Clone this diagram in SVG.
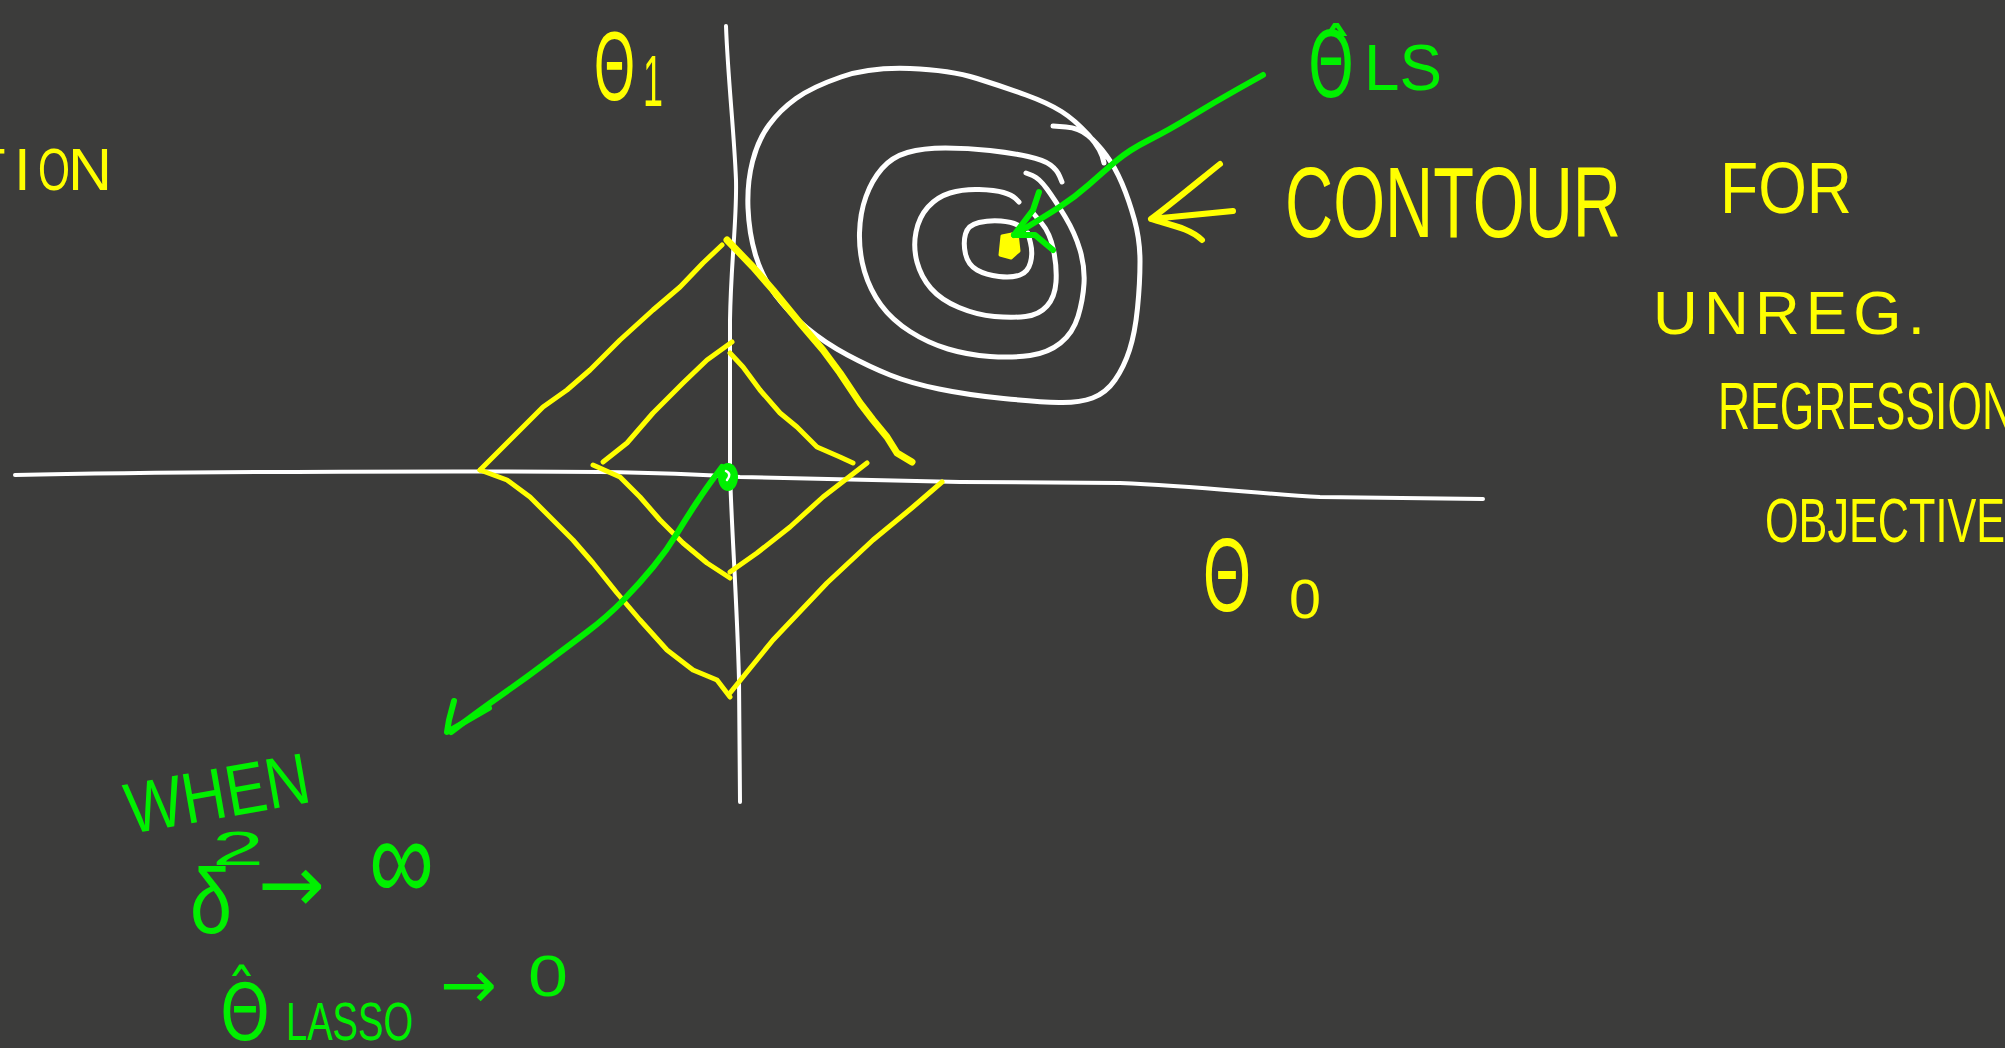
<svg xmlns="http://www.w3.org/2000/svg" width="2005" height="1048" viewBox="0 0 2005 1048">
<style>
.w{fill:none;stroke:#ffffff;stroke-width:5;stroke-linecap:round;stroke-linejoin:round}
.ax{fill:none;stroke:#ffffff;stroke-width:4;stroke-linecap:round;stroke-linejoin:round}
.y{fill:none;stroke:#ffff00;stroke-width:5;stroke-linecap:round;stroke-linejoin:round}
.g{fill:none;stroke:#00f000;stroke-width:6;stroke-linecap:round;stroke-linejoin:round}
.ty{fill:#ffff00;font-family:"Liberation Sans","DejaVu Sans",sans-serif}
.tg{fill:#00f000;font-family:"Liberation Sans","DejaVu Sans",sans-serif}
.dv{font-family:"DejaVu Sans",sans-serif}
</style>
<rect width="2005" height="1048" fill="#3c3c3b"/>
<g id="axes">
<path class="ax" d="M15,475 C200,471 500,471 600,472 C680,473 710,475 740,477 L960,482 L1120,483 C1200,486 1260,494 1320,497 L1483,499"/>
<path class="ax" d="M726,26 C728,80 734,130 736,180 C737,220 731,260 730,320 L730,470 C731,520 737,600 739,680 L740,802"/>
</g>
<g id="contours">
<path class="w" d="M1053,126 L1066,127 Q1079,128 1088,135.5 Q1097,143 1106,155 Q1115,167 1122,183.5 Q1129,200 1134.5,220 Q1140,240 1140,261.5 Q1140,283 1137.5,308 Q1135,333 1129.5,350 Q1124,367 1115,380 Q1106,393 1092.5,398 Q1079,403 1059,402.5 Q1039,402 1003.5,398.5 Q968,395 939,389 Q910,383 890,375 Q870,367 847.5,355 Q825,343 807,328 Q789,313 775.5,295 Q762,277 755.5,255 Q749,233 748,208 Q747,183 752.5,161.5 Q758,140 769,125 Q780,110 796,98.5 Q812,87 841,77 Q870,67 910,68.5 Q950,70 977,78.5 Q1004,87 1026,95 Q1048,103 1061.5,111.5 Q1075,120 1088.5,135 Q1102,150 1104,163"/>
<path class="w" d="M1026,173 L1032.5,175.5 Q1039,178 1047,189 Q1055,200 1065,216.5 Q1075,233 1080,250 Q1085,267 1084,283.5 Q1083,300 1078,316.5 Q1073,333 1060.5,343 Q1048,353 1030,355.5 Q1012,358 990,356.5 Q968,355 948,349 Q928,343 910,331.5 Q892,320 881,305 Q870,290 864.5,271.5 Q859,253 859.5,233 Q860,213 866,196.5 Q872,180 882,168.5 Q892,157 907.5,152.5 Q923,148 945.5,148 Q968,148 990,150.5 Q1012,153 1028,156.5 Q1044,160 1050.5,165 Q1057,170 1059.5,176 L1062,182"/>
<path class="w" d="M1033,213 L1041.5,223 Q1050,233 1053.5,250 Q1057,267 1056,282 Q1055,297 1047,306 Q1039,315 1025.5,316.5 Q1012,318 994.5,316.5 Q977,315 959,307.5 Q941,300 931,288.5 Q921,277 917,262 Q913,247 916,232 Q919,217 928,207 Q937,197 950,193 Q963,189 979,189.5 Q995,190 1003.5,192.5 Q1012,195 1015.5,198.5 L1019,202"/>
<path class="w" d="M1028,233 L1030.5,243 Q1033,253 1030.5,262.5 Q1028,272 1020,275 Q1012,278 999,276.5 Q986,275 977,270 Q968,265 965.5,254 Q963,243 965.5,234 Q968,225 979,222.5 Q990,220 1001,221 Q1012,222 1016.5,224.5 L1021,227"/>
<path d="M1002,236 L1017,233 L1019,251 L1011,258 L1000,255 Z" fill="#ffff00" stroke="#ffff00" stroke-width="3" stroke-linejoin="round"/>
</g>
<g id="diamond-outer">
<path class="y" d="M480,470 L517,433 L543,407 L567,390 L590,370 L620,340 L653,310 L680,287 L703,263 L722,245"/>
<path class="y" style="stroke-width:7" d="M727,240 L753,267 L773,290 L800,323 L823,350 L840,373 L860,403 L873,420 L887,437 L897,453 L912,462"/>
<path class="y" d="M480,470 L507,480 L530,497 L550,517 L573,540 L593,563 L617,593 L640,620 L667,650 L693,670 L717,680 L730,697"/>
<path class="y" d="M730,693 L773,640 L827,583 L873,540 L913,507 L942,482"/>
</g>
<g id="diamond-inner">
<path class="y" d="M603,462 L627,443 L653,413 L683,383 L707,360 L732,342"/>
<path class="y" d="M730,353 L743,367 L760,390 L780,413 L797,427 L817,447 L840,457 L853,463"/>
<path class="y" d="M593,465 L620,477 L640,497 L660,520 L683,543 L707,563 L730,578"/>
<path class="y" d="M730,572 L757,553 L790,527 L823,497 L867,463"/>
</g>
<g id="lasso-point">
<ellipse cx="728" cy="477" rx="10" ry="14" fill="#00f000"/>
<path d="M726,471 Q732,474 727,480" fill="none" stroke="#ffffff" stroke-width="2.5" stroke-linecap="round"/>
</g>
<g id="connectors">
<path class="g" d="M1263,75 L1238,89 Q1213,103 1191,116.5 Q1169,130 1149,140 Q1129,150 1115.5,161.5 Q1102,173 1088.5,185 Q1075,197 1059.5,207 Q1044,217 1014,235"/>
<path class="g" d="M1039,192 L1033,210 L1014,235 L1035,235 L1053,250"/>
<path class="g" d="M722,467 L714.5,477 Q707,487 697,502 Q687,517 677,533.5 Q667,550 653.5,566.5 Q640,583 623.5,600 Q607,617 587,632 Q567,647 545,663.5 Q523,680 501.5,695 Q480,710 451,732"/>
<path class="g" d="M454,701 L449,720 L447,732 L470,719 L489,708"/>
<path class="y" style="stroke-width:6" d="M1220,164 C1200,180 1170,205 1151,219 L1233,211 M1151,219 C1170,225 1190,228 1202,240"/>
</g>
<g id="labels-yellow">
<text class="ty" y="190" font-size="60"><tspan x="-31">T</tspan><tspan x="14">I</tspan><tspan x="38" textLength="32" lengthAdjust="spacingAndGlyphs">O</tspan><tspan x="68" textLength="44" lengthAdjust="spacingAndGlyphs">N</tspan></text>
<text class="ty" x="594" y="100" font-size="98"><tspan textLength="41" lengthAdjust="spacingAndGlyphs">Θ</tspan><tspan x="643" y="106" font-size="72" textLength="20" lengthAdjust="spacingAndGlyphs">1</tspan></text>
<text class="ty" x="1285" y="237" font-size="100" textLength="336" lengthAdjust="spacingAndGlyphs">CONTOUR</text>
<text class="ty" x="1720" y="213" font-size="72" textLength="132" lengthAdjust="spacingAndGlyphs">FOR</text>
<text class="ty" x="1653" y="334" font-size="62" textLength="272" lengthAdjust="spacing">UNREG.</text>
<text class="ty" x="1718" y="429" font-size="66" textLength="296" lengthAdjust="spacingAndGlyphs">REGRESSION</text>
<text class="ty" x="1765" y="542" font-size="63" textLength="240" lengthAdjust="spacingAndGlyphs">OBJECTIVE</text>
<text class="ty" x="1203" y="611" font-size="104"><tspan textLength="48" lengthAdjust="spacingAndGlyphs">Θ</tspan><tspan x="1289" y="618" font-size="56" textLength="32" lengthAdjust="spacingAndGlyphs">0</tspan></text>
</g>
<g id="labels-green">
<text class="tg" x="1308" y="97" font-size="90"><tspan class="dv" textLength="46" lengthAdjust="spacingAndGlyphs">Θ</tspan><tspan class="dv" x="1318" y="80" font-size="72">ˆ</tspan><tspan x="1364" y="90" font-size="64" textLength="78" lengthAdjust="spacingAndGlyphs">LS</tspan></text>
<text class="tg" transform="translate(130,834) rotate(-10)" font-size="72" textLength="186" lengthAdjust="spacingAndGlyphs">WHEN</text>
<text class="tg" x="190" y="933" font-size="92"><tspan textLength="42" lengthAdjust="spacingAndGlyphs">δ</tspan><tspan x="212" y="865" font-size="48" textLength="52" lengthAdjust="spacingAndGlyphs">2</tspan><tspan class="dv" x="258" y="912" font-size="80">→</tspan><tspan x="369" y="900" font-size="118" textLength="65" lengthAdjust="spacingAndGlyphs">∞</tspan></text>
<text class="tg" x="220" y="1040" font-size="78"><tspan class="dv" textLength="50" lengthAdjust="spacingAndGlyphs">Θ</tspan><tspan class="dv" x="226" y="1015" font-size="62">ˆ</tspan><tspan x="286" y="1040" font-size="54" textLength="127" lengthAdjust="spacingAndGlyphs">LASSO</tspan><tspan class="dv" x="440" y="1008" font-size="68">→</tspan><tspan x="528" y="996" font-size="58" textLength="40" lengthAdjust="spacingAndGlyphs">0</tspan></text>
</g>
</svg>
